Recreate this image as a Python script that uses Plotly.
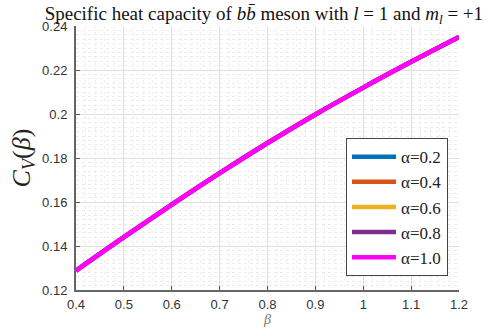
import plotly.graph_objects as go

beta = [0.4, 0.5, 0.6, 0.7, 0.8, 0.9, 1.0, 1.1, 1.2]
cv_a02 = [0.1288, 0.1440, 0.1588, 0.1731, 0.1868, 0.1998, 0.2120, 0.2237, 0.2350]
cv_a04 = [0.1288, 0.1440, 0.1588, 0.1731, 0.1868, 0.1998, 0.2120, 0.2237, 0.2350]
cv_a06 = [0.1288, 0.1440, 0.1588, 0.1731, 0.1868, 0.1998, 0.2120, 0.2237, 0.2350]
cv_a08 = [0.1288, 0.1440, 0.1588, 0.1731, 0.1868, 0.1998, 0.2120, 0.2237, 0.2350]
cv_a10 = [0.1288, 0.1440, 0.1588, 0.1731, 0.1868, 0.1998, 0.2120, 0.2237, 0.2350]
names = ["α=0.2", "α=0.4", "α=0.6", "α=0.8", "α=1.0"]
colors = ["#0072BD", "#D95319", "#EDB120", "#7E2F8E", "#FF00FF"]
series = [cv_a02, cv_a04, cv_a06, cv_a08, cv_a10]

fig = go.Figure()
for nm, c, ys in zip(names, colors, series):
    fig.add_trace(go.Scatter(x=beta, y=ys, mode="lines", name=nm,
                             line=dict(color=c, width=4.5, shape="spline")))

serif = "Liberation Serif, Times New Roman, serif"
sans = "Liberation Sans, Arial, sans-serif"

fig.update_layout(
    width=496, height=329,
    margin=dict(l=76, r=37, t=26, b=39, autoexpand=False),
    paper_bgcolor="white", plot_bgcolor="white",
    title=dict(text="Specific heat capacity of <i>b</i><i>b̄</i> meson with <i>l</i> = 1 and <i>m<sub>l</sub></i> = +1",
               x=0.532, xanchor="center", y=0.981, yanchor="top",
               font=dict(family=serif, size=19, color="#111")),
    showlegend=True,
    legend=dict(x=0.705, y=0.575, xanchor="left", yanchor="top",
                bgcolor="white", bordercolor="#444", borderwidth=1,
                font=dict(family=serif, size=17, color="#222"),
                itemwidth=44, tracegroupgap=0),
    xaxis=dict(range=[0.4, 1.2], dtick=0.1, tick0=0.4, ticks="inside", ticklen=4,
               tickcolor="#555", showline=True, linecolor="#666", linewidth=2,
               mirror=False, zeroline=False, ticklabelstandoff=1, automargin=False,
               showgrid=True, gridcolor="#dedede", gridwidth=1,
               minor=dict(dtick=0.02, showgrid=True, gridcolor="#f0f0f0", griddash="dot"),
               tickfont=dict(family=sans, size=13, color="#333"),
               title=dict(text="<i>β</i>", font=dict(family=serif, size=14, color="#777"), standoff=0)),
    yaxis=dict(range=[0.12, 0.24], dtick=0.02, tick0=0.12, ticks="inside", ticklen=4,
               tickcolor="#555", showline=True, linecolor="#666", linewidth=2,
               mirror=False, zeroline=False, ticklabelstandoff=4, automargin=False,
               showgrid=True, gridcolor="#dedede", gridwidth=1,
               minor=dict(dtick=0.002, showgrid=True, gridcolor="#ececec", griddash="dot"),
               tickfont=dict(family=sans, size=13, color="#333"),
               title=dict(text="<i>C<sub>V</sub></i>(<i>β</i>)", font=dict(family=serif, size=26, color="#222"), standoff=4)),
)

fig.write_html("out.html")
